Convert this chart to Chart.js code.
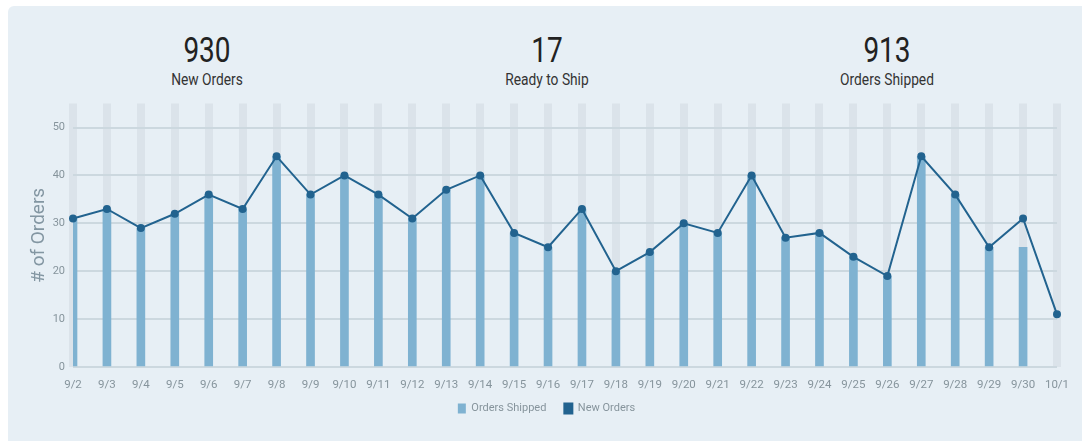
<!DOCTYPE html>
<html>
<head>
<meta charset="utf-8">
<script src="https://cdn.jsdelivr.net/npm/chart.js@4"></script>
<style>
  html, body { margin: 0; padding: 0; background: #fff; }
  body { width: 1082px; height: 441px; position: relative; overflow: hidden; font-family: Roboto, sans-serif; }
  .card { position: absolute; left: 8px; top: 6px; width: 1074px; height: 435px; background: #e7eff5; border-radius: 6px 0 0 0; }
  .stat { position: absolute; top: 26px; width: 240px; margin-left: -120px; text-align: center; color: #222; }
  .stat .num { font-size: 35px; line-height: 38px; transform: scaleX(0.8); }
  .stat .lbl { font-size: 16px; line-height: 20px; color: #333; transform: scaleX(0.86); }
  .chart-box { position: absolute; left: 0; top: 83px; width: 1074px; height: 352px; }
</style>
</head>
<body>
<div class="card">
  <div class="stat" style="left:199px"><div class="num">930</div><div class="lbl">New Orders</div></div>
  <div class="stat" style="left:539px"><div class="num">17</div><div class="lbl">Ready to Ship</div></div>
  <div class="stat" style="left:879px"><div class="num">913</div><div class="lbl">Orders Shipped</div></div>
  <div class="chart-box"><canvas id="ordersChart"></canvas></div>
</div>
<script>
const days = ['9/2', '9/3', '9/4', '9/5', '9/6', '9/7', '9/8', '9/9', '9/10', '9/11',
  '9/12', '9/13', '9/14', '9/15', '9/16', '9/17', '9/18', '9/19', '9/20', '9/21',
  '9/22', '9/23', '9/24', '9/25', '9/26', '9/27', '9/28', '9/29', '9/30', '10/1'];
const newOrders = [31, 33, 29, 32, 36, 33, 44, 36, 40, 36,
  31, 37, 40, 28, 25, 33, 20, 24, 30, 28,
  40, 27, 28, 23, 19, 44, 36, 25, 31, 11];
const ordersShipped = [31, 33, 29, 32, 36, 33, 44, 36, 40, 36,
  31, 37, 40, 28, 25, 33, 20, 24, 30, 28,
  40, 27, 28, 23, 19, 44, 36, 25, 25, null];
const yTicks = [0, 10, 20, 30, 40, 50];

const tickColor = '#86949c';

// pull the legend a bit closer to the x labels
const legendNudge = {
  id: 'legendNudge',
  afterLayout(chart) {
    const lg = chart.legend;
    if (!lg) return;
    lg.top -= 12;
    lg.bottom -= 12;
    lg.left += 4;
    lg.right += 4;
    lg.adjustHitBoxes && lg.adjustHitBoxes();
  }
};

const ctx = document.getElementById('ordersChart').getContext('2d');

const ordersChart = new Chart(ctx, {
  data: {
    labels: days,
    datasets: [{
      type: 'bar',
      label: 'Orders Shipped',
      data: ordersShipped,
      backgroundColor: '#7fb2d1',
      barThickness: 8,
      order: 2
    }, {
      type: 'line',
      label: 'New Orders',
      data: newOrders,
      borderColor: '#22638f',
      backgroundColor: '#22638f',
      borderWidth: 2,
      pointRadius: 3,
      pointHoverRadius: 4,
      tension: 0,
      order: 1
    }]
  },
  options: {
    responsive: true,
    maintainAspectRatio: false,
    animation: false,
    layout: { padding: { top: 1, right: 25, left: 20, bottom: 5 } },
    scales: {
      x: {
        offset: false,
        border: { display: false },
        grid: { color: '#dbe3ea', lineWidth: 8, drawTicks: false, offset: false },
        ticks: { color: tickColor, font: { family: 'Roboto', size: 11.5 }, padding: 11, maxRotation: 0, autoSkip: false },
        afterFit: (scale) => { scale.height = 30; }
      },
      y: {
        min: 0,
        max: 55,
        border: { display: false },
        grid: { color: '#ccd8df', lineWidth: 2, drawTicks: false },
        ticks: { color: tickColor, font: { family: 'Roboto', size: 11 }, padding: 8 },
        afterBuildTicks: (scale) => { scale.ticks = yTicks.map(v => ({ value: v })); },
        title: { display: true, text: '# of Orders', color: '#8396a2', font: { family: 'Roboto', size: 19 }, padding: 0 },
        afterFit: (scale) => { scale.width = 45; }
      }
    },
    plugins: {
      legend: {
        position: 'bottom',
        labels: {
          color: tickColor,
          font: { family: 'Roboto', size: 11 },
          boxWidth: 8,
          boxHeight: 10,
          padding: 18,
          sort: (a, b) => a.datasetIndex - b.datasetIndex
        }
      },
      tooltip: { enabled: false }
    }
  },
  plugins: [legendNudge]
});
</script>
</body>
</html>
